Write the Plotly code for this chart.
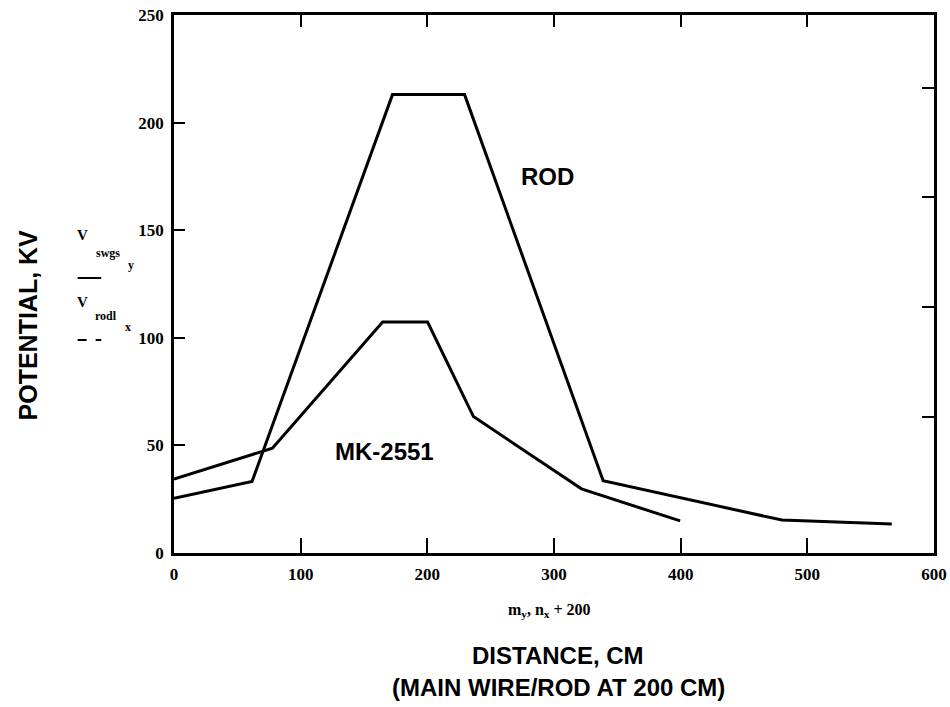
import plotly.graph_objects as go

# Data
rod_x = [0, 61.6, 172.5, 229.4, 338.8, 480, 566.7]
rod_y = [25.4, 33.2, 213, 213, 33.6, 15.3, 13.5]
mk_x = [0, 77.7, 164.7, 200.2, 236.4, 321.7, 399.6]
mk_y = [34.3, 48.7, 107.3, 107.3, 63.4, 29.8, 14.9]

x_ticks = [0, 100, 200, 300, 400, 500, 600]
y_ticks = [0, 50, 100, 150, 200, 250]
top_ticks = [100, 200, 300, 400, 500]
right_ticks = [63.3, 114.4, 165.6, 216]

W, H = 950, 707
L, R, T, B = 174, 3, 15, 154
PW, PH = W - L - R, H - T - B
BOT = H - B  # y of plot bottom


def px(x):
    return (x - L) / PW


def py(y):
    return (BOT - y) / PH


fig = go.Figure()
fig.add_trace(go.Scatter(x=rod_x, y=rod_y, mode="lines",
                         line=dict(color="black", width=3), showlegend=False))
fig.add_trace(go.Scatter(x=mk_x, y=mk_y, mode="lines",
                         line=dict(color="black", width=3), showlegend=False))
fig.add_trace(go.Scatter(x=[None], y=[None], xaxis="x2", yaxis="y2",
                         showlegend=False, hoverinfo="skip"))

tickfont = dict(family="Liberation Serif", size=17, color="black", weight="bold")
fig.update_layout(
    width=W, height=H, autosize=False,
    margin=dict(l=L, r=R, t=T, b=B),
    paper_bgcolor="white", plot_bgcolor="white",
    xaxis=dict(range=[0, 600], tickvals=x_ticks, ticks="inside", ticklen=15,
               tickwidth=2, tickcolor="black", showline=True, linecolor="black",
               linewidth=2.5, mirror=True, showgrid=False, zeroline=False,
               tickfont=tickfont, ticklabelstandoff=4, ticklabeloverflow="allow"),
    yaxis=dict(range=[0, 250], tickvals=y_ticks, ticks="inside", ticklen=11,
               tickwidth=2, tickcolor="black", showline=True, linecolor="black",
               linewidth=2.5, mirror=True, showgrid=False, zeroline=False,
               tickfont=tickfont, ticklabelstandoff=4, ticklabeloverflow="allow"),
    xaxis2=dict(range=[0, 600], tickvals=top_ticks, ticks="inside", ticklen=12,
                tickwidth=2, tickcolor="black", showline=True, linecolor="black",
                linewidth=2.5, showgrid=False, zeroline=False, showticklabels=False,
                overlaying="x", side="top", anchor="y"),
    yaxis2=dict(range=[0, 250], tickvals=right_ticks, ticks="inside", ticklen=12,
                tickwidth=2, tickcolor="black", showline=True, linecolor="black",
                linewidth=2.5, showgrid=False, zeroline=False, showticklabels=False,
                overlaying="y", side="right", anchor="x"),
)

sans = "Liberation Sans"
serif = "Liberation Serif"
ann = []


def A(text, x, y, size, family=sans, angle=0, xref="paper", yref="paper"):
    ann.append(dict(x=x, y=y, xref=xref, yref=yref, text=text, showarrow=False,
                    xanchor="center", yanchor="middle", textangle=angle,
                    font=dict(family=family, size=size, color="black", weight="bold")))


A("ROD", 295, 175, 24, xref="x", yref="y")
A("MK-2551", 166, 47.4, 24, xref="x", yref="y")
A("POTENTIAL, KV", px(26), py(325), 25, angle=-90)
A("DISTANCE, CM", px(565), py(655), 24)
A("(MAIN WIRE/ROD AT 200 CM)", px(565), py(687), 24)
A("m<sub>y</sub>, n<sub>x</sub> + 200", px(556), py(610), 16, family=serif)
# Mathcad-style legend
leg = [("V", 81, 235, 15), ("swgs", 107, 253, 12), ("y", 130, 265, 12),
       ("V", 81, 302, 15), ("rodl", 105, 316, 12), ("x", 127, 327, 12)]
for t, xx, yy, s in leg:
    A(t, px(xx), py(yy), s, family=serif)
fig.update_layout(annotations=ann)

fig.add_shape(type="line", xref="paper", yref="paper", x0=px(76), x1=px(100),
              y0=py(278), y1=py(278), line=dict(color="black", width=2))
fig.add_shape(type="line", xref="paper", yref="paper", x0=px(76), x1=px(100),
              y0=py(340), y1=py(340), line=dict(color="black", width=2, dash="dash"))

fig.write_html(
    "out.html",
    config={"responsive": False, "displayModeBar": False},
    post_script="document.body.style.margin='0';document.body.style.padding='0';"
                "document.body.style.overflow='hidden';",
)
